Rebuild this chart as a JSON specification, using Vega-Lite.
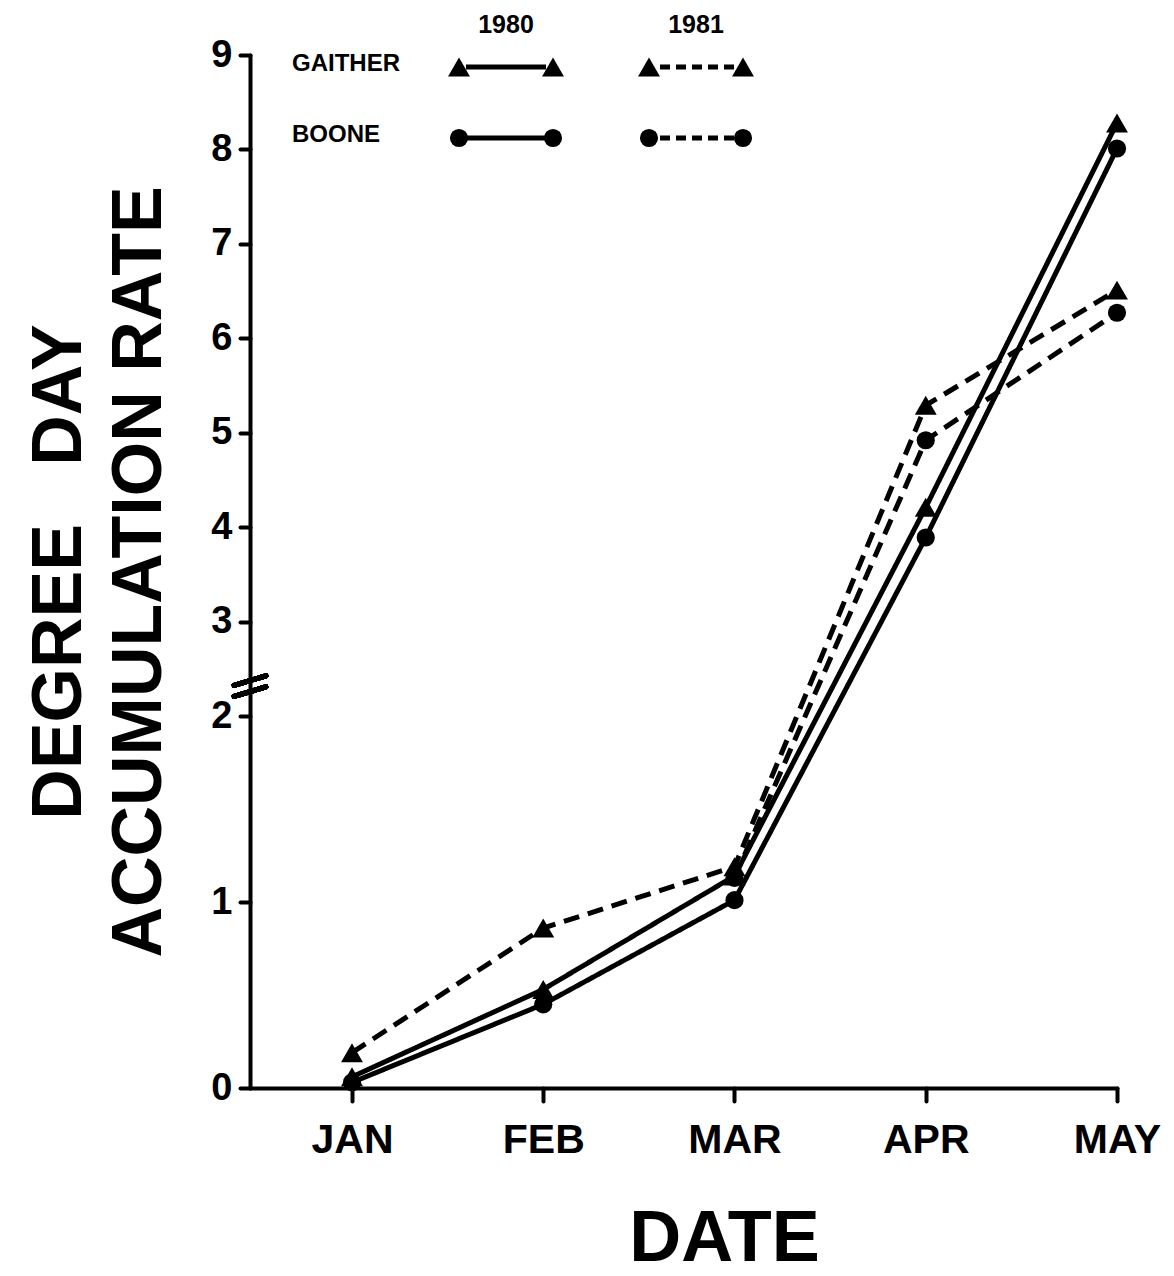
{
  "$schema": "https://vega.github.io/schema/vega-lite/v6.json",
  "width": 867,
  "height": 1033,
  "autosize": {"type": "none"},
  "padding": {"left": 250, "top": 55, "right": 57, "bottom": 188},
  "background": "white",
  "config": {
    "view": {"stroke": null},
    "font": "Liberation Sans",
    "text": {"font": "Liberation Sans", "fontWeight": "bold", "color": "black"}
  },
  "datasets": {
    "rates": [
      {"site": "GAITHER", "year": "1980", "month": 1, "rate": 0.06},
      {"site": "GAITHER", "year": "1980", "month": 2, "rate": 0.53},
      {"site": "GAITHER", "year": "1980", "month": 3, "rate": 1.14},
      {"site": "GAITHER", "year": "1980", "month": 4, "rate": 4.21},
      {"site": "GAITHER", "year": "1980", "month": 5, "rate": 8.28},
      {"site": "BOONE", "year": "1980", "month": 1, "rate": 0.03},
      {"site": "BOONE", "year": "1980", "month": 2, "rate": 0.45},
      {"site": "BOONE", "year": "1980", "month": 3, "rate": 1.01},
      {"site": "BOONE", "year": "1980", "month": 4, "rate": 3.89},
      {"site": "BOONE", "year": "1980", "month": 5, "rate": 8.01},
      {"site": "GAITHER", "year": "1981", "month": 1, "rate": 0.19},
      {"site": "GAITHER", "year": "1981", "month": 2, "rate": 0.86},
      {"site": "GAITHER", "year": "1981", "month": 3, "rate": 1.19},
      {"site": "GAITHER", "year": "1981", "month": 4, "rate": 5.29},
      {"site": "GAITHER", "year": "1981", "month": 5, "rate": 6.51},
      {"site": "BOONE", "year": "1981", "month": 3, "rate": 1.13},
      {"site": "BOONE", "year": "1981", "month": 4, "rate": 4.92},
      {"site": "BOONE", "year": "1981", "month": 5, "rate": 6.27}
    ],
    "key": [
      {"site": "GAITHER", "year": "1980"},
      {"site": "GAITHER", "year": "1981"},
      {"site": "BOONE", "year": "1980"},
      {"site": "BOONE", "year": "1981"}
    ]
  },
  "resolve": {"scale": {"x": "independent", "y": "independent"}},
  "layer": [
    {
      "data": {"name": "rates"},
      "encoding": {
        "x": {
          "field": "month",
          "type": "quantitative",
          "scale": {"domain": [0.4667, 5], "nice": false, "zero": false},
          "axis": {
            "values": [1, 2, 3, 4, 5],
            "labelExpr": "['', 'JAN', 'FEB', 'MAR', 'APR', 'MAY'][datum.value]",
            "grid": false,
            "domainColor": "black",
            "domainWidth": 4,
            "domainCap": "round",
            "tickColor": "black",
            "tickWidth": 4,
            "tickSize": 13,
            "tickCap": "round",
            "labelFont": "Liberation Sans",
            "labelFontWeight": "bold",
            "labelFontSize": 41,
            "labelColor": "black",
            "labelPadding": 19,
            "labelFlush": false,
            "labelOverlap": false,
            "title": "DATE",
            "titleFont": "Liberation Sans",
            "titleFontWeight": "bold",
            "titleFontSize": 72,
            "titleColor": "black",
            "titleX": 474,
            "titleY": 172,
            "titleBaseline": "alphabetic"
          }
        },
        "y": {
          "field": "rate",
          "type": "quantitative",
          "scale": {"domain": [0, 2, 9], "range": [1033, 661, 0], "nice": false, "zero": false},
          "axis": {
            "values": [0, 1, 2, 3, 4, 5, 6, 7, 8, 9],
            "grid": false,
            "domainColor": "black",
            "domainWidth": 4,
            "domainCap": "round",
            "tickColor": "black",
            "tickWidth": 4,
            "tickSize": 10,
            "tickCap": "round",
            "labelFont": "Liberation Sans",
            "labelFontWeight": "bold",
            "labelFontSize": 38,
            "labelColor": "black",
            "labelPadding": 8,
            "labelFlush": false,
            "labelOverlap": false,
            "title": ["DEGREE\u00a0\u00a0\u00a0DAY", "ACCUMULATION RATE"],
            "titleFont": "Liberation Sans",
            "titleFontWeight": "bold",
            "titleFontSize": 70,
            "titleLineHeight": 80,
            "titleColor": "black",
            "titlePadding": 35
          }
        }
      },
      "layer": [
        {
          "mark": {"type": "line", "color": "black", "strokeWidth": 5},
          "encoding": {
            "detail": [{"field": "site"}, {"field": "year"}],
            "strokeDash": {
              "field": "year",
              "type": "nominal",
              "scale": {"domain": ["1980", "1981"], "range": [[1, 0], [16, 9]]},
              "legend": null
            }
          }
        },
        {
          "transform": [{"filter": "datum.site === 'BOONE'"}],
          "mark": {"type": "point", "shape": "circle", "filled": true, "color": "black", "opacity": 1, "size": 330}
        },
        {
          "transform": [{"filter": "datum.site === 'GAITHER'"}],
          "mark": {"type": "point", "shape": "triangle-up", "filled": true, "color": "black", "opacity": 1, "size": 480}
        },
        {
          "mark": {
            "type": "point",
            "shape": "M-1,-0.15L1,-0.75M-1,0.55L1,-0.05",
            "filled": false,
            "stroke": "black",
            "strokeWidth": 5,
            "strokeCap": "round",
            "opacity": 1,
            "size": 1000
          },
          "encoding": {
            "x": {"datum": 0.4667, "type": "quantitative"},
            "y": {"datum": 2.3, "type": "quantitative"}
          }
        }
      ]
    },
    {
      "data": {"name": "key"},
      "encoding": {
        "x": {
          "field": "year",
          "type": "nominal",
          "scale": {"type": "point", "domain": ["1980", "1981"], "range": [256, 446], "padding": 0},
          "axis": null
        },
        "y": {
          "field": "site",
          "type": "nominal",
          "scale": {"type": "point", "domain": ["GAITHER", "BOONE"], "range": [12, 83], "padding": 0},
          "axis": null
        }
      },
      "layer": [
        {
          "transform": [{"filter": "datum.year === '1980'"}],
          "mark": {"type": "rule", "color": "black", "strokeWidth": 5, "xOffset": -40, "x2Offset": 40},
          "encoding": {"x2": {"field": "year"}}
        },
        {
          "transform": [{"filter": "datum.year === '1981'"}],
          "mark": {"type": "rule", "color": "black", "strokeWidth": 5, "strokeDash": [10, 6], "xOffset": -36, "x2Offset": 40},
          "encoding": {"x2": {"field": "year"}}
        },
        {
          "transform": [{"filter": "datum.site === 'GAITHER'"}],
          "mark": {"type": "point", "shape": "triangle-up", "filled": true, "color": "black", "opacity": 1, "size": 480, "xOffset": -47}
        },
        {
          "transform": [{"filter": "datum.site === 'GAITHER'"}],
          "mark": {"type": "point", "shape": "triangle-up", "filled": true, "color": "black", "opacity": 1, "size": 480, "xOffset": 47}
        },
        {
          "transform": [{"filter": "datum.site === 'BOONE'"}],
          "mark": {"type": "point", "shape": "circle", "filled": true, "color": "black", "opacity": 1, "size": 330, "xOffset": -47}
        },
        {
          "transform": [{"filter": "datum.site === 'BOONE'"}],
          "mark": {"type": "point", "shape": "circle", "filled": true, "color": "black", "opacity": 1, "size": 330, "xOffset": 47}
        },
        {
          "transform": [{"filter": "datum.year === '1980'"}],
          "mark": {"type": "text", "align": "left", "baseline": "middle", "fontSize": 24, "xOffset": -214, "yOffset": -3},
          "encoding": {"text": {"field": "site"}}
        },
        {
          "transform": [{"filter": "datum.site === 'GAITHER'"}],
          "mark": {"type": "text", "align": "center", "baseline": "middle", "fontSize": 25, "yOffset": -42},
          "encoding": {"text": {"field": "year"}}
        }
      ]
    }
  ]
}
